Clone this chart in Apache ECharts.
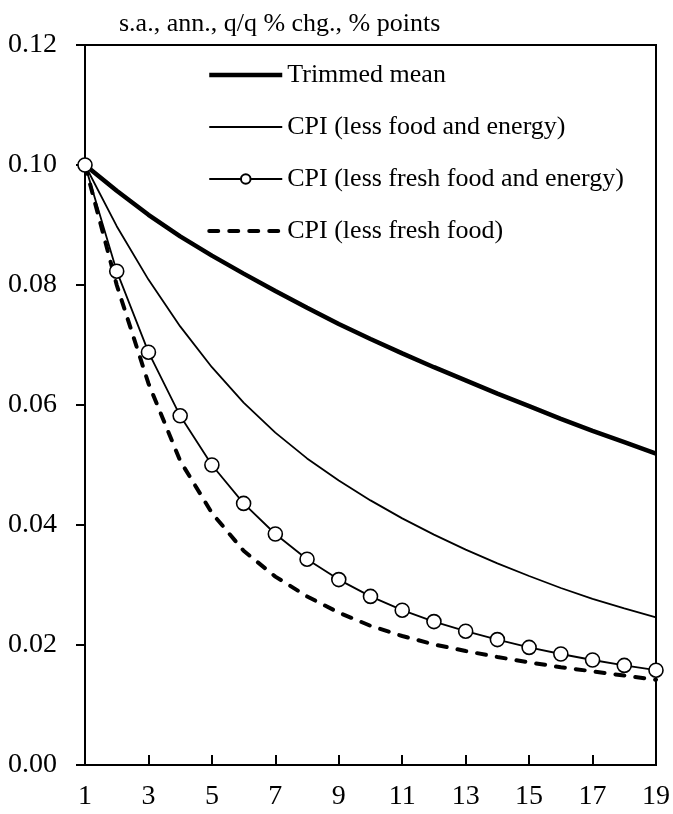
<!DOCTYPE html>
<html>
<head>
<meta charset="utf-8">
<script src="https://cdn.jsdelivr.net/npm/echarts@6/dist/echarts.min.js"></script>
<style>
  html, body { margin: 0; padding: 0; background: #fff; }
  #chart { width: 673px; height: 814px; }
</style>
</head>
<body>
<div id="chart"></div>
<script>
// Horizon (quarters) on the x axis
const quarters = ['1','2','3','4','5','6','7','8','9','10','11','12','13','14','15','16','17','18','19'];

// Response of each measure, % points
const trimmedMean = [0.1000, 0.0957, 0.0917, 0.0881, 0.0849, 0.0819, 0.0790, 0.0762, 0.0735, 0.0710,
                     0.0686, 0.0663, 0.0641, 0.0619, 0.0598, 0.0577, 0.0557, 0.0538, 0.0519];
const cpiLessFoodEnergy = [0.1000, 0.0898, 0.0809, 0.0731, 0.0663, 0.0604, 0.0554, 0.0511, 0.0474, 0.0441,
                           0.0411, 0.0384, 0.0359, 0.0336, 0.0315, 0.0295, 0.0277, 0.0261, 0.0246];
const cpiLessFreshFoodEnergy = [0.1000, 0.0823, 0.0688, 0.0582, 0.0500, 0.0436, 0.0385, 0.0343, 0.0309, 0.0281,
                                0.0258, 0.0239, 0.0223, 0.0209, 0.0196, 0.0185, 0.0175, 0.0166, 0.0158];
const cpiLessFreshFood = [0.1000, 0.0800, 0.0636, 0.0507, 0.0420, 0.0357, 0.0314, 0.0281, 0.0254, 0.0232,
                          0.0215, 0.0201, 0.0190, 0.0180, 0.0171, 0.0163, 0.0156, 0.0149, 0.0142];

const seriesNames = ['Trimmed mean', 'CPI (less food and energy)',
                     'CPI (less fresh food and energy)', 'CPI (less fresh food)'];
const unitLabel = 's.a., ann., q/q % chg., % points';

const serif = '"Liberation Serif", "Times New Roman", serif';

// legend entries for plain lines carry no marker
const hiddenMarker = { opacity: 0 };

const chart = echarts.init(document.getElementById('chart'), null, { renderer: 'canvas' });

chart.setOption({
  animation: false,
  backgroundColor: '#fff',
  title: {
    text: unitLabel,
    left: 114,
    top: 6,
    textStyle: { fontFamily: serif, fontSize: 26, fontWeight: 'normal', color: '#000' }
  },
  legend: {
    orient: 'vertical',
    left: 207,
    top: 62,
    padding: 0,
    itemWidth: 73,
    itemHeight: 12,
    itemGap: 26,
    lineStyle: { width: 'inherit', type: 'inherit', cap: 'inherit' },
    textStyle: { fontFamily: serif, fontSize: 26, color: '#000' },
    data: [
      { name: seriesNames[0], itemStyle: hiddenMarker },
      { name: seriesNames[1], itemStyle: hiddenMarker },
      { name: seriesNames[2] },
      { name: seriesNames[3], itemStyle: hiddenMarker }
    ]
  },
  grid: {
    left: 85, right: 16, top: 45, bottom: 49,
    show: true,
    borderColor: '#000',
    borderWidth: 2
  },
  xAxis: {
    type: 'category',
    data: quarters,
    boundaryGap: false,
    axisLine: { lineStyle: { color: '#000', width: 2 } },
    axisTick: { inside: true, length: 10, interval: 1, lineStyle: { color: '#000', width: 2 } },
    axisLabel: { interval: 1, margin: 18, fontFamily: serif, fontSize: 28, color: '#000' },
    splitLine: { show: false }
  },
  yAxis: {
    type: 'value',
    min: 0,
    max: 0.12,
    interval: 0.02,
    axisLine: { show: true, lineStyle: { color: '#000', width: 2 } },
    axisTick: { show: true, length: 9, lineStyle: { color: '#000', width: 2 } },
    axisLabel: {
      margin: 28, fontFamily: serif, fontSize: 28, color: '#000',
      formatter: v => v.toFixed(2)
    },
    splitLine: { show: false }
  },
  series: [
    {
      name: seriesNames[0], type: 'line', data: trimmedMean,
      symbol: 'none', lineStyle: { color: '#000', width: 4.5 },
      itemStyle: { color: '#000' }
    },
    {
      name: seriesNames[1], type: 'line', data: cpiLessFoodEnergy,
      symbol: 'none', lineStyle: { color: '#000', width: 1.8 },
      itemStyle: { color: '#000' }
    },
    {
      name: seriesNames[3], type: 'line', data: cpiLessFreshFood,
      symbol: 'none',
      lineStyle: { color: '#000', width: 4, type: [9, 11], cap: 'round' },
      itemStyle: { color: '#000' }
    },
    {
      name: seriesNames[2], type: 'line', data: cpiLessFreshFoodEnergy,
      symbol: 'circle', symbolSize: 14, showSymbol: true,
      lineStyle: { color: '#000', width: 1.8 },
      itemStyle: { color: '#fff', borderColor: '#000', borderWidth: 1.6 }
    }
  ]
});
</script>
</body>
</html>
